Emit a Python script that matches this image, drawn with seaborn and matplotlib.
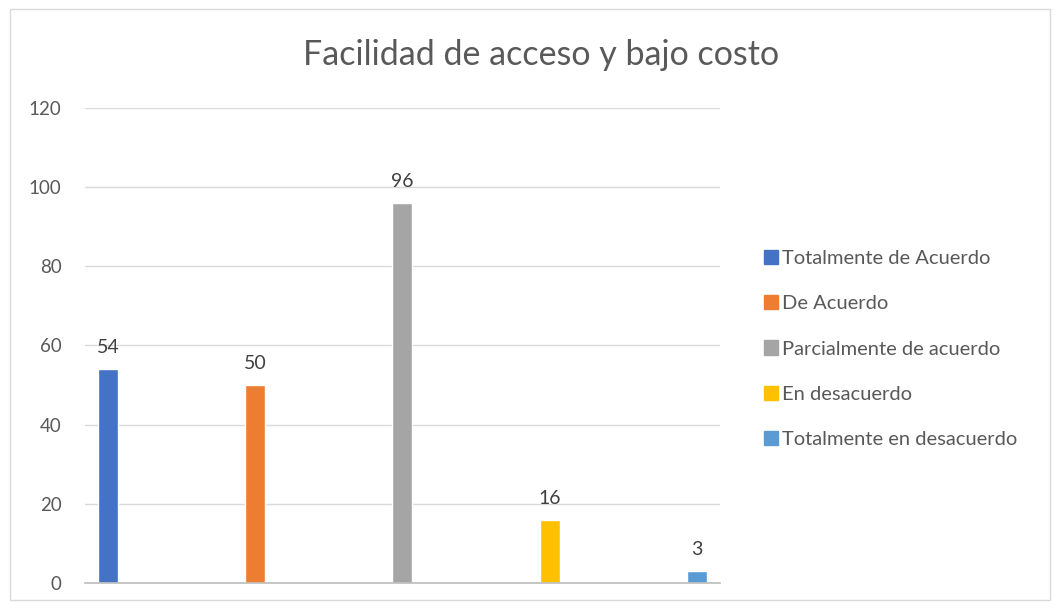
import matplotlib
matplotlib.use("Agg")
import matplotlib.pyplot as plt
import matplotlib.patches as mpatches
import seaborn as sns
import pandas as pd

# chart data
categorias = ["Totalmente de Acuerdo", "De Acuerdo", "Parcialmente de acuerdo",
              "En desacuerdo", "Totalmente en desacuerdo"]
valores = [54, 50, 96, 16, 3]
colores = ["#4472C4", "#ED7D31", "#A5A5A5", "#FFC000", "#5B9BD5"]
yticks = [0, 20, 40, 60, 80, 100, 120]

sns.set_theme(style="white")
plt.rcParams["font.family"] = ["Lato", "DejaVu Sans"]

df = pd.DataFrame({"cat": categorias, "val": valores})

fig = plt.figure(figsize=(10.6, 6.09), dpi=100)
ax = fig.add_axes([0.0802, 0.0427, 0.599, 0.78])

sns.barplot(data=df, x="cat", y="val", hue="cat", palette=colores,
            width=0.136, legend=False, ax=ax, saturation=1)

ax.set_ylim(0, 120)
ax.set_xlim(-0.156, 4.156)
ax.set_yticks(yticks)
ax.set_yticklabels([str(t) for t in yticks], fontsize=13.5, color="#595959")
ax.tick_params(axis="y", length=0, pad=17)
ax.set_xticks([])
ax.set_xlabel("")
ax.set_ylabel("")
ax.yaxis.grid(True, color="#D9D9D9", linewidth=1)
ax.set_axisbelow(True)
for s in ["left", "right", "top"]:
    ax.spines[s].set_visible(False)
ax.spines["bottom"].set_color("#BFBFBF")

for i, v in enumerate(valores):
    ax.text(i, v + 3.3, str(v), ha="center", va="bottom", fontsize=14, color="#404040")

fig.text(0.51, 0.91, "Facilidad de acceso y bajo costo", ha="center", va="center",
         fontsize=24.5, color="#595959")

handles = [mpatches.Patch(color=c, label=l) for c, l in zip(colores, categorias)]
fig.legend(handles=handles, loc="center left", bbox_to_anchor=(0.7035, 0.427),
           frameon=False, fontsize=14.5, labelcolor="#595959",
           handlelength=0.7, handleheight=0.7, handletextpad=0.2,
           labelspacing=1.4)

# outer chart border
fig.patches.append(mpatches.Rectangle((0.009, 0.015), 0.982, 0.97,
                                      transform=fig.transFigure, fill=False,
                                      edgecolor="#D9D9D9", linewidth=1))

fig.savefig("out.png", dpi=100)
